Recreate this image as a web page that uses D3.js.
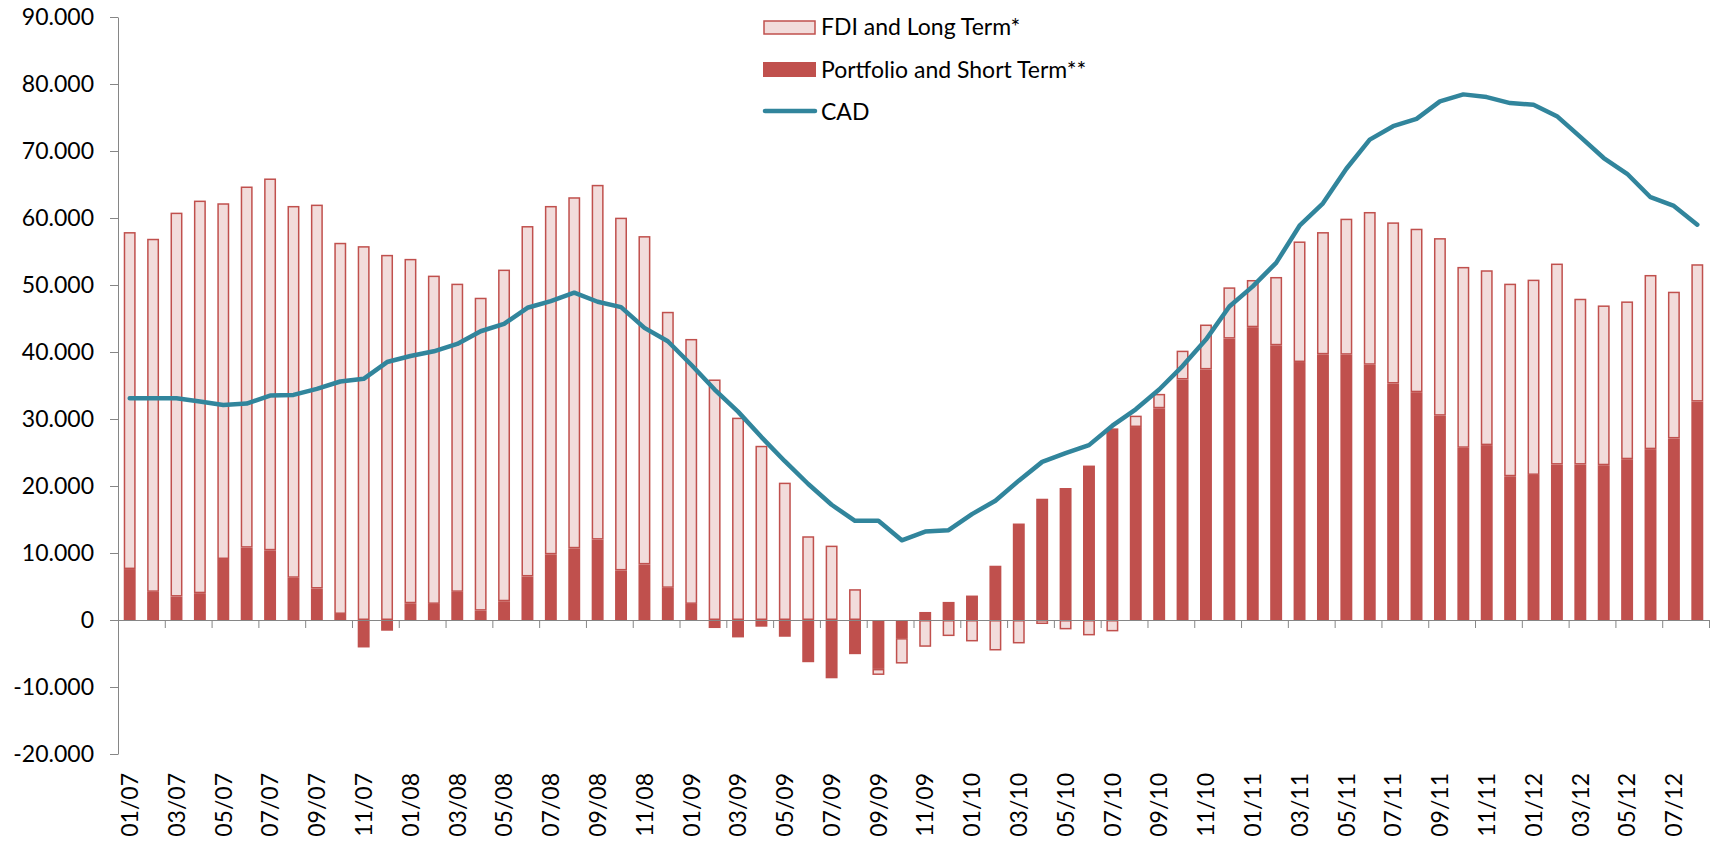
<!DOCTYPE html>
<html>
<head>
<meta charset="utf-8">
<script src="https://cdn.jsdelivr.net/npm/d3@7"></script>
<style>
  body { margin: 0; background: #fff; }
  text { font-family: Lato, "Open Sans", sans-serif; fill: #000; }
</style>
</head>
<body>
<script>
// Months shown on the x axis (one bar per month)
let months = [
  "01/07","02/07","03/07","04/07","05/07","06/07","07/07","08/07","09/07","10/07","11/07","12/07",
  "01/08","02/08","03/08","04/08","05/08","06/08","07/08","08/08","09/08","10/08","11/08","12/08",
  "01/09","02/09","03/09","04/09","05/09","06/09","07/09","08/09","09/09","10/09","11/09","12/09",
  "01/10","02/10","03/10","04/10","05/10","06/10","07/10","08/10","09/10","10/10","11/10","12/10",
  "01/11","02/11","03/11","04/11","05/11","06/11","07/11","08/11","09/11","10/11","11/11","12/11",
  "01/12","02/12","03/12","04/12","05/12","06/12","07/12","08/12"
];

// Portfolio and Short Term** (dark bars)
let portfolio = [
  7600, 4200, 3500, 4000, 9100, 10800, 10400, 6300, 4700, 900, -4100, -1600,
  2500, 2400, 4200, 1400, 2800, 6500, 9800, 10700, 12000, 7400, 8300, 4800,
  2400, -1200, -2600, -1000, -2500, -6300, -8700, -5100, -7300, -2700, 1200, 2700,
  3650, 8100, 14400, 18100, 19700, 23050, 28600, 28800, 31600, 35900, 37400, 42000,
  43700, 41000, 38500, 39650, 39600, 38100, 35300, 34000, 30500, 25700, 26100, 21450,
  21650, 23200, 23200, 23100, 24000, 25500, 27100, 32600
];

// FDI and Long Term* (light bars)
let fdi = [
  50300, 52700, 57300, 58600, 53100, 53900, 55500, 55500, 57300, 55400, 55800, 54500,
  51400, 49000, 46000, 46700, 49500, 52300, 52000, 52400, 52950, 52650, 49000, 41200,
  39550, 35900, 30200, 26000, 20500, 12500, 11100, 4600, -900, -3800, -4000, -2400,
  -3200, -4550, -3500, -600, -1400, -2300, -1700, 1700, 2150, 4300, 6700, 7650,
  7050, 10200, 18000, 18250, 20300, 22800, 24050, 24400, 26500, 27000, 26100, 28750,
  29150, 30000, 24750, 23850, 23550, 26000, 21900, 20500
];

// CAD (line)
let cad = [
  33100, 33100, 33100, 32600, 32100, 32300, 33500, 33600, 34500, 35600, 36000, 38500,
  39400, 40100, 41200, 43100, 44200, 46600, 47600, 48850, 47500, 46700, 43600, 41600,
  38100, 34400, 31100, 27300, 23700, 20300, 17200, 14800, 14800, 11900, 13200, 13400,
  15800, 17800, 20800, 23600, 24900, 26100, 29000, 31450, 34400, 37900, 41850, 46800,
  49800, 53300, 58850, 62200, 67350, 71700, 73700, 74800, 77400, 78450, 78050, 77150,
  76900, 75200, 72100, 68950, 66600, 63100, 61800, 59000
];

// Y tick labels
let yTicks = [-20000, -10000, 0, 10000, 20000, 30000, 40000, 50000, 60000, 70000, 80000, 90000];

// Legend entries
let legendNames = ["FDI and Long Term*", "Portfolio and Short Term**", "CAD"];

let width = 1714;
let height = 841;

let plot = { left: 118, right: 1709, top: 17, bottom: 754 };

let darkRed = "#c0504d";
let lightRed = "#f2dcdb";
let teal = "#31859c";
let axisGrey = "#868686";
let fontSize = "23px";

// number format with dots as thousand separators
let locale = d3.formatLocale({ decimal: ",", thousands: ".", grouping: [3], currency: ["", ""], minus: "-" });
let fmt = locale.format(",.0f");

let svg = d3.select("body")
  .append("svg")
  .attr("width", width)
  .attr("height", height);

// scales
let x = d3.scaleBand()
  .domain(months)
  .range([plot.left, plot.right])
  .paddingInner(0.49)
  .paddingOuter(0.245);

let xIdx = d3.scaleLinear([0, months.length], [plot.left, plot.right]);

let y = d3.scaleLinear([-20000, 90000], [plot.bottom, plot.top]);

// stacked data (diverging so negatives stack downwards)
let table = months.map((m, i) => ({ month: m, portfolio: portfolio[i], fdi: fdi[i] }));

let series = d3.stack()
  .keys(["portfolio", "fdi"])
  .offset(d3.stackOffsetDiverging)(table);

// y axis
let yAxis = svg.append("g")
  .attr("transform", `translate(${plot.left},0)`)
  .call(d3.axisLeft(y).tickValues(yTicks).tickFormat(fmt).tickSize(8).tickSizeOuter(0).tickPadding(16));

yAxis.select(".domain").attr("stroke", axisGrey);
yAxis.selectAll(".tick line").attr("stroke", axisGrey);
yAxis.selectAll(".tick text")
  .style("font-size", fontSize)
  .style("font-family", "Lato, sans-serif");

// bars
svg.append("g")
  .selectAll("rect")
  .data(series[0])
  .enter()
  .append("rect")
  .attr("x", d => x(d.data.month))
  .attr("width", x.bandwidth())
  .attr("y", d => y(Math.max(d[0], d[1])))
  .attr("height", d => Math.abs(y(d[0]) - y(d[1])))
  .style("fill", darkRed);

svg.append("g")
  .selectAll("rect")
  .data(series[1])
  .enter()
  .append("rect")
  .attr("x", d => x(d.data.month) + 0.75)
  .attr("width", x.bandwidth() - 1.5)
  .attr("y", d => y(Math.max(d[0], d[1])) + 0.75)
  .attr("height", d => Math.max(0, Math.abs(y(d[0]) - y(d[1])) - 1.5))
  .style("fill", lightRed)
  .style("stroke", darkRed)
  .style("stroke-width", 1.5);

// x axis at zero
let xAxis = svg.append("g")
  .attr("transform", `translate(0,${y(0)})`)
  .call(d3.axisBottom(xIdx).tickValues(d3.range(0, months.length + 1, 2)).tickFormat("").tickSize(8).tickSizeOuter(0));

xAxis.select(".domain").attr("stroke", axisGrey);
xAxis.selectAll(".tick line").attr("stroke", axisGrey);

// month labels along the bottom
svg.append("g")
  .selectAll("text")
  .data(months.filter((m, i) => i % 2 === 0))
  .enter()
  .append("text")
  .attr("transform", d => `translate(${x(d) + x.bandwidth() / 2},773) rotate(-90)`)
  .attr("dy", "0.36em")
  .style("text-anchor", "end")
  .style("font-size", fontSize)
  .text(d => d);

// CAD line
let line = d3.line()
  .x((d, i) => x(months[i]) + x.bandwidth() / 2)
  .y(d => y(d));

svg.append("path")
  .datum(cad)
  .attr("d", line)
  .style("fill", "none")
  .style("stroke", teal)
  .style("stroke-width", 4.5)
  .style("stroke-linejoin", "round")
  .style("stroke-linecap", "round");

// legend
let legend = svg.append("g");

legend.append("rect")
  .attr("x", 764).attr("y", 21).attr("width", 51).attr("height", 13)
  .style("fill", lightRed).style("stroke", darkRed).style("stroke-width", 1.5);

legend.append("rect")
  .attr("x", 763).attr("y", 62).attr("width", 53).attr("height", 15)
  .style("fill", darkRed);

legend.append("line")
  .attr("x1", 765).attr("x2", 815).attr("y1", 111).attr("y2", 111)
  .style("stroke", teal).style("stroke-width", 4.5).style("stroke-linecap", "round");

legend.selectAll("text")
  .data(legendNames)
  .enter()
  .append("text")
  .attr("x", 821)
  .attr("y", (d, i) => 27 + i * 42.5)
  .attr("dy", "0.35em")
  .style("font-size", fontSize)
  .text(d => d);
</script>
</body>
</html>
